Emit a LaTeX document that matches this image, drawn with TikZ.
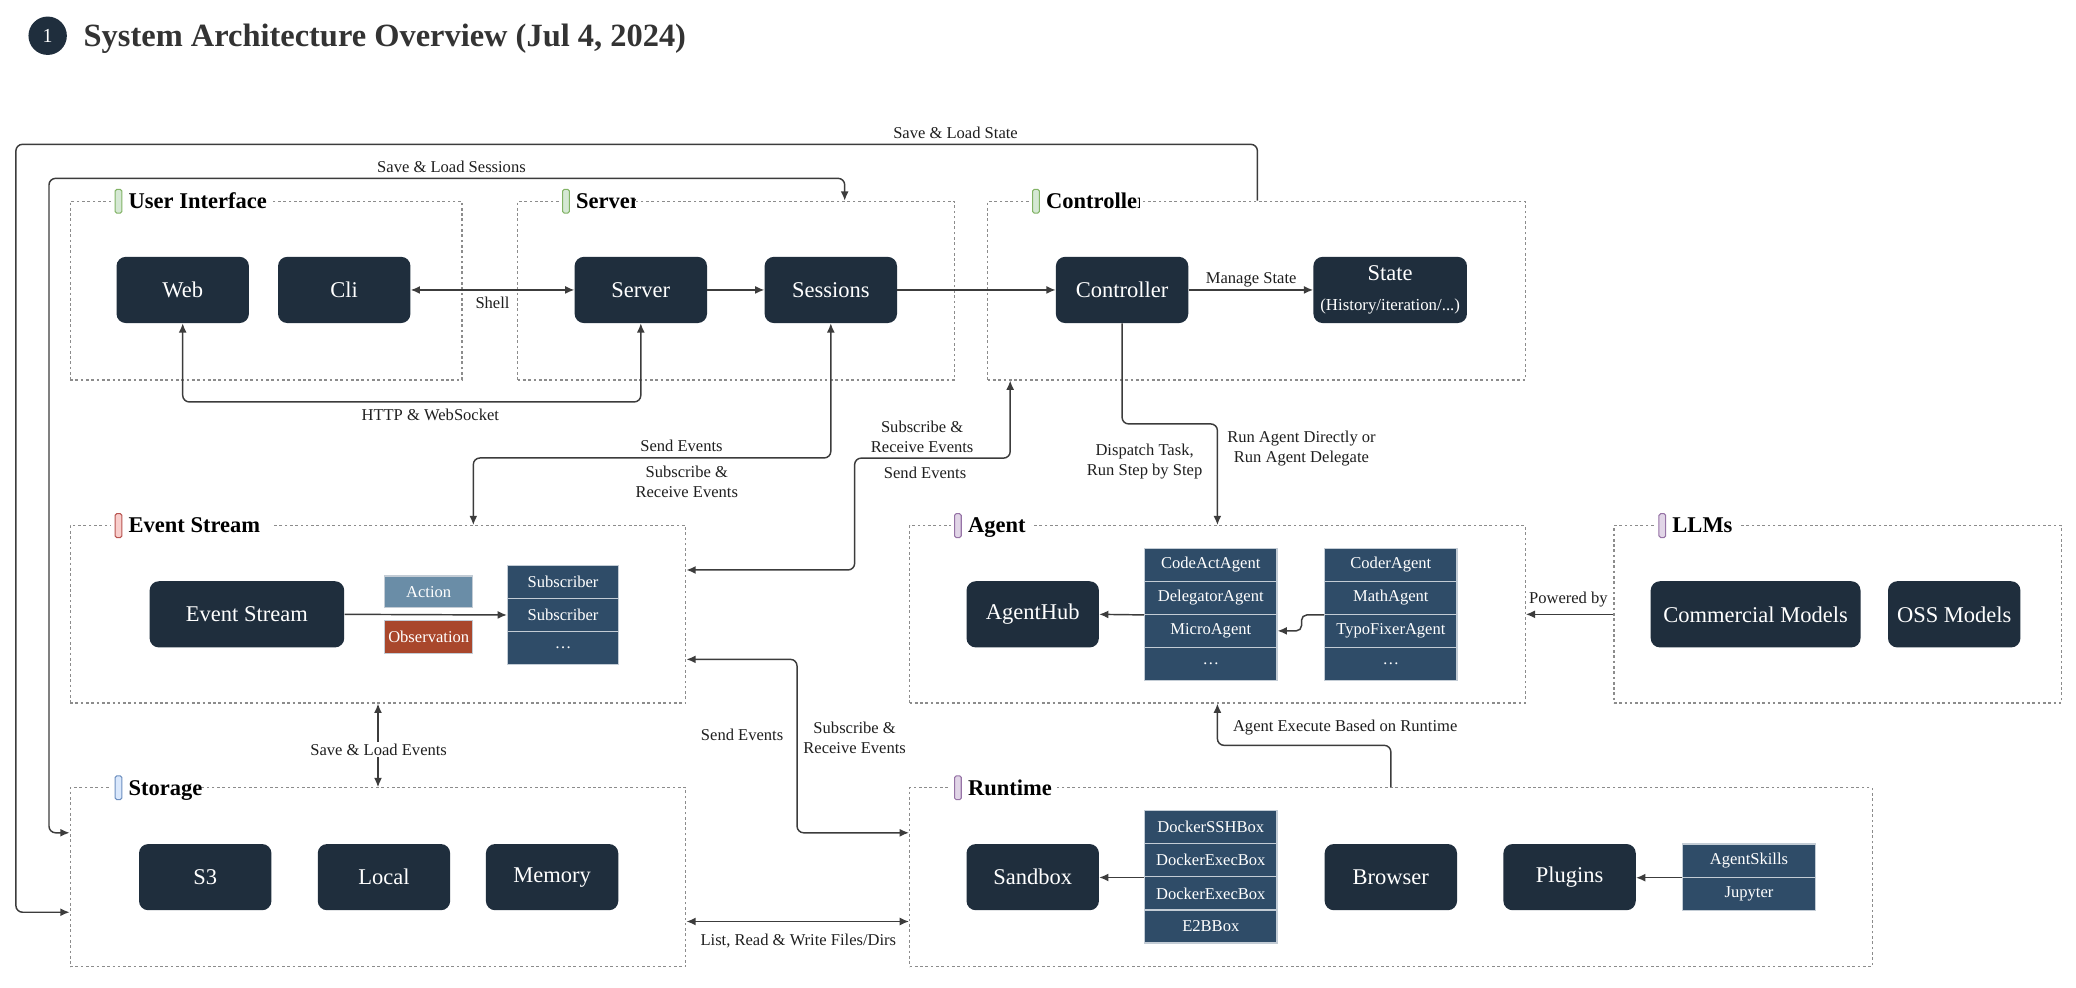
\documentclass[tikz,border=0pt]{standalone}
\usepackage{fontspec}
\setmainfont{Liberation Serif}
\usetikzlibrary{arrows.meta,calc}
\definecolor{dk}{HTML}{1F2E3D}
\definecolor{cell}{HTML}{2F4C68}
\definecolor{cellline}{HTML}{C3CCD5}
\definecolor{act}{HTML}{6A8DA7}
\definecolor{obs}{HTML}{A9472C}
\definecolor{grpline}{HTML}{8C8C8C}
\definecolor{ln}{HTML}{3C3C3C}
\definecolor{ttl}{HTML}{333333}
\definecolor{grfill}{HTML}{D5E8D4}\definecolor{grline}{HTML}{82B366}
\definecolor{rdfill}{HTML}{F8CECC}\definecolor{rdline}{HTML}{B85450}
\definecolor{blfill}{HTML}{DAE8FC}\definecolor{blline}{HTML}{6C8EBF}
\definecolor{pufill}{HTML}{E1D5E7}\definecolor{puline}{HTML}{9673A6}
\tikzset{
 dark/.style={fill=dk, rounded corners=7pt, text=white, font=\fontsize{17}{20}\selectfont, minimum width=100pt, minimum height=50pt, inner sep=0pt},
 cellbox/.style={fill=cell, draw=cellline, line width=0.9pt, text=white, font=\fontsize{12.5}{15}\selectfont, minimum width=100pt, minimum height=25pt, inner sep=0pt},
 grp/.style={draw=grpline, dash pattern=on 2pt off 2pt, line width=0.9pt, inner sep=0pt},
 conn/.style={draw=ln, line width=1.1pt, rounded corners=5pt},
 arr/.style={-{Latex[length=7pt,width=6pt]}},
 darr/.style={{Latex[length=7pt,width=6pt]}-{Latex[length=7pt,width=6pt]}},
 lbl/.style={font=\fontsize{12.5}{15}\selectfont, text=black!88, align=center, inner sep=1pt},
 glab/.style={anchor=base west, inner sep=0pt, font=\bfseries\fontsize{17}{20}\selectfont},
}
% #1 name, #2 left x, #3 top y, #4 clip end x, #5 text, #6 colour prefix
\newcommand\glabel[6]{%
 \fill[white] (#2+31,#3-11) rectangle (#4,#3+11);
 \begin{scope}
 \clip (#2+31,#3-14) rectangle (#4,#3+14);
 \node[glab] (#1) at (#2+44,#3+5.5) {#5};
 \end{scope}
 \draw[fill=#6fill, draw=#6line, rounded corners=1.2pt, line width=0.8pt] (#2+34,#3-9) rectangle (#2+39,#3+9);
}
\begin{document}
\begin{tikzpicture}[x=1pt,y=-1pt]
\useasboundingbox[fill=white] (0,0) rectangle (1568,746);

% title
\node[circle, fill=dk, minimum size=29pt, inner sep=0pt, text=white, font=\fontsize{15}{17}\selectfont] (num) at (36,27) {1};
\node[anchor=base west, inner sep=0pt, text=ttl, font=\bfseries\fontsize{24.5}{28}\selectfont] (title) at (63,35.5) {System Architecture Overview (Jul 4, 2024)};

% groups
\node[grp, minimum width=296pt, minimum height=135pt] (uig) at (201,219.5) {};
\node[grp, minimum width=330pt, minimum height=135pt] (srvg) at (556,219.5) {};
\node[grp, minimum width=406pt, minimum height=135pt] (ctlg) at (949,219.5) {};
\node[grp, minimum width=465pt, minimum height=134pt] (esg) at (285.5,464) {};
\node[grp, minimum width=465pt, minimum height=134pt] (agg) at (919.5,464) {};
\node[grp, minimum width=338pt, minimum height=134pt] (llmg) at (1388,464) {};
\node[grp, minimum width=465pt, minimum height=135pt] (stg) at (285.5,662.5) {};
\node[grp, minimum width=727pt, minimum height=135pt] (rtg) at (1050.5,662.5) {};

\glabel{uilab}{53}{152}{205}{User Interface}{gr}
\glabel{srvlab}{391}{152}{480}{Server}{gr}
\glabel{ctllab}{746}{152}{861}{Controller}{gr}
\glabel{eslab}{53}{397}{206}{Event Stream}{rd}
\glabel{aglab}{687}{397}{779}{Agent}{pu}
\glabel{llmlab}{1219}{397}{1313}{LLMs}{pu}
\glabel{stlab}{53}{595}{152}{Storage}{bl}
\glabel{rtlab}{687}{595}{796}{Runtime}{pu}

% top row nodes
\node[dark] (web) at (138,219) {Web};
\node[dark] (cli) at (260,219) {Cli};
\node[dark] (server) at (484,219) {Server};
\node[dark] (sessions) at (627.5,219) {Sessions};
\node[dark] (controller) at (847.5,219) {Controller};
\node[dark, minimum width=116pt, align=center] (state) at (1050,219) {State\\[3pt]{\fontsize{12.7}{14}\selectfont(History/iteration/...)}};

% event stream
\node[dark, minimum width=147pt] (es) at (186.5,464) {Event Stream};
\node[cellbox, fill=act, minimum width=66.5pt, minimum height=24pt] (action) at (323.8,447) {Action};
\node[cellbox, fill=obs, minimum width=66.5pt, minimum height=24.5pt] (obs) at (323.8,481.2) {Observation};
\node[cellbox, minimum width=84pt] (sub1) at (425.3,439.5) {Subscriber};
\node[cellbox, minimum width=84pt] (sub2) at (425.3,464.5) {Subscriber};
\node[cellbox, minimum width=84pt] (sub3) at (425.3,489.5) {…};

% agent
\node[dark] (hub) at (780,464) {AgentHub};
\node[cellbox] (ca1) at (914.5,426.5) {CodeActAgent};
\node[cellbox] (ca2) at (914.5,451.5) {DelegatorAgent};
\node[cellbox] (ca3) at (914.5,476.5) {MicroAgent};
\node[cellbox] (ca4) at (914.5,501.5) {…};
\node[cellbox] (cb1) at (1050.5,426.5) {CoderAgent};
\node[cellbox] (cb2) at (1050.5,451.5) {MathAgent};
\node[cellbox] (cb3) at (1050.5,476.5) {TypoFixerAgent};
\node[cellbox] (cb4) at (1050.5,501.5) {…};

% LLMs
\node[dark, minimum width=158.5pt] (comm) at (1326,464) {Commercial Models};
\node[dark] (oss) at (1476,464) {OSS Models};

% storage
\node[dark] (s3) at (155,662.5) {S3};
\node[dark] (local) at (290,662.5) {Local};
\node[dark] (memory) at (417,662.5) {Memory};

% runtime
\node[dark] (sandbox) at (780,662.5) {Sandbox};
\node[cellbox] (dk1) at (914.5,624.8) {DockerSSHBox};
\node[cellbox] (dk2) at (914.5,649.8) {DockerExecBox};
\node[cellbox] (dk3) at (914.5,674.8) {DockerExecBox};
\node[cellbox] (dk4) at (914.5,699.8) {E2BBox};
\node[dark] (browser) at (1050.5,662.5) {Browser};
\node[dark] (plugins) at (1185.5,662.5) {Plugins};
\node[cellbox] (ps1) at (1321,650) {AgentSkills};
\node[cellbox] (ps2) at (1321,675) {Jupyter};

% connectors
\draw[conn,arr] (ctlg.north -| 949.7,0) |- (12,109) |- (stg.west |- 0,689);
\draw[conn,darr] (stg.west |- 0,629) -| (37,134.7) -| (srvg.north -| 638,0);
\draw[conn,darr] (sessions.south) -- ++(0,101.7) -| (esg.north -| 357.5,0);
\draw[conn,darr] (esg.east |- 0,430.5) -| (645.5,346) -| (ctlg.south -| 763,0);
\draw[conn,darr] (esg.east |- 0,498) -| (602,629) -- (rtg.west |- 0,629);
\draw[conn,darr] (esg.south) -- (stg.north);
\draw[conn,darr] (stg.east |- 0,696) -- (rtg.west |- 0,696);
\draw[conn,darr] (cli.east) -- (server.west);
\draw[conn,arr] (server.east) -- (sessions.west);
\draw[conn,arr] (sessions.east) -- (controller.west);
\draw[conn,arr] (controller.east) -- (state.west);
\draw[conn,darr] (web.south) -- ++(0,59.4) -| (server.south);
\draw[conn,arr] (controller.south) -- ++(0,76) -| (agg.north);
\draw[conn,arr] (rtg.north) -- ++(0,-31.6) -| (agg.south);
\draw[conn,arr] (llmg.west) -- (agg.east);
\draw[conn,arr] (es.east) -- (sub2.west);
\draw[conn,arr] (ca2.south west) -- (hub.east);
\draw[conn,arr,rounded corners=4pt] (cb2.south west) -- ++(-17,0) |- (ca3.east);
\draw[conn,arr] (dk2.south west) -- (sandbox.east |- dk2.south west);
\draw[conn,arr] (ps1.south west) -- (plugins.east |- ps1.south west);

% labels
\node[lbl] (lsls) at (721.7,100) {Save \& Load State};
\node[lbl] (lslss) at (341,125.7) {Save \& Load Sessions};
\node[lbl] (lshell) at (372,228.5) {Shell};
\node[lbl] (lhttp) at (325,313) {HTTP \& WebSocket};
\node[lbl] (lmanage) at (945,211) {Manage State};
\node[lbl] (lsend1) at (514.7,336.7) {Send Events};
\node[lbl] (lsub1) at (518.7,363.8) {Subscribe \&\\Receive Events};
\node[lbl] (lsub2) at (696.5,330) {Subscribe \&\\Receive Events};
\node[lbl] (lsend2) at (698.7,357) {Send Events};
\node[lbl] (ldisp) at (864.5,348.7) {Dispatch Task,\\Run Step by Step};
\node[lbl] (lrun) at (983,338.7) {Run Agent Directly or\\Run Agent Delegate};
\node[lbl] (lpow) at (1184.6,453) {Powered by};
\node[lbl] (lexec) at (1016,549.6) {Agent Execute Based on Runtime};
\node[lbl, fill=white] (lsle) at (286,566) {Save \& Load Events};
\node[lbl] (lsend3) at (560.5,555) {Send Events};
\node[lbl] (lsub3) at (645.5,557) {Subscribe \&\\Receive Events};
\node[lbl] (lfiles) at (603,710.5) {List, Read \& Write Files/Dirs};
\end{tikzpicture}
\end{document}
